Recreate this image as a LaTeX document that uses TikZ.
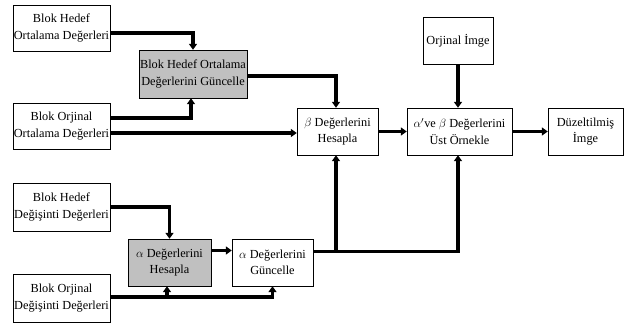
\documentclass[tikz,border=0pt]{standalone}
\usepackage{fontspec}
\setmainfont{Liberation Serif}
\usetikzlibrary{arrows.meta}
\definecolor{kutugri}{RGB}{192,192,192}
\tikzset{
	blok/.style={draw=black, fill=white, align=center, inner sep=1pt, font=\fontsize{12.3}{16.5}\selectfont},
	griblok/.style={blok, fill=kutugri},
	ok/.style={line width=3.5pt, -{Triangle[length=6pt,width=8pt]}},
	hat/.style={line width=3.5pt}
}
\begin{document}
\begin{tikzpicture}[x=1pt,y=-1pt]
	\useasboundingbox (0,0) rectangle (626,324);

	\node[blok, minimum width=97pt, minimum height=46pt]     (hedefort) at (61.5,28)    {Blok Hedef\\Ortalama Değerleri};
	\node[griblok, minimum width=106pt, minimum height=48pt] (guncort)  at (193,74)     {Blok Hedef Ortalama\\Değerlerini Güncelle};
	\node[blok, minimum width=97pt, minimum height=46pt]     (orjort)   at (61.5,126)   {Blok Orjinal\\Ortalama Değerleri};
	\node[blok, minimum width=81pt, minimum height=47pt]     (betah)    at (337.5,131.5) {$\beta$ Değerlerini\\Hesapla};
	\node[blok, minimum width=105pt, minimum height=47pt]    (ustornek) at (459.5,131.5) {$\alpha'$ve $\beta$ Değerlerini\\Üst Örnekle};
	\node[blok, minimum width=75pt, minimum height=47pt]     (duzelt)   at (585.5,131.5) {Düzeltilmiş\\İmge};
	\node[blok, minimum width=70pt, minimum height=47pt]     (orjimge)  at (458,40.5)   {Orjinal İmge};
	\node[blok, minimum width=97pt, minimum height=48pt]     (hedefdeg) at (61.5,207)   {Blok Hedef\\Değişinti Değerleri};
	\node[griblok, minimum width=83pt, minimum height=47pt]  (alfah)    at (169.5,262.5) {$\alpha$ Değerlerini\\Hesapla};
	\node[blok, minimum width=81pt, minimum height=47pt]     (alfag)    at (272.5,262.5) {$\alpha$ Değerlerini\\Güncelle};
	\node[blok, minimum width=97pt, minimum height=48pt]     (orjdeg)   at (61.5,298)   {Blok Orjinal\\Değişinti Değerleri};

	% ortalama kolu
	\draw[ok] ([yshift=-5pt]hedefort.east) -| (guncort.north);
	\draw[ok] ([yshift=8pt]orjort.east) -| ([xshift=-2pt]guncort.south);
	\draw[ok] ([yshift=-7pt]orjort.east) -- ([yshift=-7pt]orjort.east -| betah.west);
	\draw[ok] ([yshift=-2pt]guncort.east) -| ([xshift=-1.5pt]betah.north);

	% ust sira
	\draw[ok] (betah.east) -- (ustornek.west);
	\draw[ok] (orjimge.south) -- (orjimge.south |- ustornek.north);
	\draw[ok] (ustornek.east) -- (duzelt.west);

	% degisinti kolu
	\draw[ok] (hedefdeg.east) -| (alfah.north);
	\draw[ok] ([yshift=12pt]alfah.east) -- ([yshift=12pt]alfah.east -| alfag.west);
	\draw[ok] ([yshift=1pt]orjdeg.east) -| (alfag.south);
	\draw[ok] ([yshift=1pt]orjdeg.east -| alfah.south) ++(-2.5,0) -- ([xshift=-2.5pt]alfah.south);
	\draw[ok] ([yshift=11pt]alfag.east) -| ([xshift=-1.5pt]ustornek.south);
	\draw[ok] ([yshift=11pt]alfag.east -| betah.south) ++(-1.5,0) -- ([xshift=-1.5pt]betah.south);
\end{tikzpicture}
\end{document}
